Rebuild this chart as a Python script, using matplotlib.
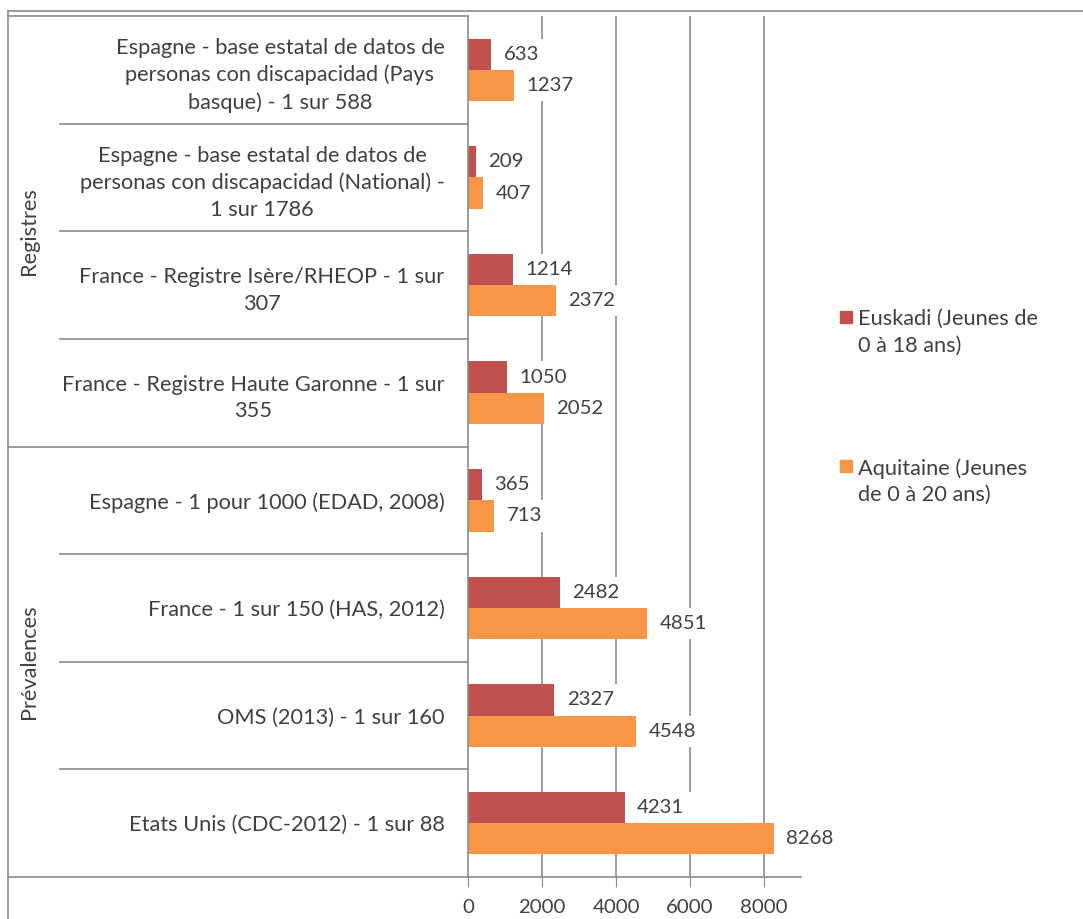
import matplotlib
matplotlib.use("Agg")
import matplotlib.pyplot as plt
import numpy as np
from matplotlib.lines import Line2D
from matplotlib.patches import Rectangle
import matplotlib.transforms as mtransforms

plt.rcParams['font.family'] = ['Lato', 'DejaVu Sans']

# data, top to bottom
categories = [
    "Espagne - base estatal de datos de\npersonas con discapacidad (Pays\nbasque) - 1 sur 588",
    "Espagne - base estatal de datos de\npersonas con discapacidad (National) -\n1 sur 1786",
    "France - Registre Isère/RHEOP - 1 sur\n307",
    "France - Registre Haute Garonne - 1 sur\n355",
    "Espagne - 1 pour 1000 (EDAD, 2008)",
    "France - 1 sur 150 (HAS, 2012)",
    "OMS (2013) - 1 sur 160",
    "Etats Unis (CDC-2012) - 1 sur 88",
]
euskadi = [633, 209, 1214, 1050, 365, 2482, 2327, 4231]
aquitaine = [1237, 407, 2372, 2052, 713, 4851, 4548, 8268]
series_names = ["Euskadi (Jeunes de\n0 à 18 ans)", "Aquitaine (Jeunes\nde 0 à 20 ans)"]
groups = ["Registres", "Prévalences"]
group_sizes = [4, 4]
xticks = [0, 2000, 4000, 6000, 8000]

RED = '#C0504D'
ORANGE = '#F79646'
GRID = '#8C8C8C'
TXT = '#404040'
FS = 15.7      # words
FS_NUM = 14.7  # numbers
LS = 1.42

W, H = 1083, 919
fig = plt.figure(figsize=(W / 100, H / 100), dpi=100)


def fx(px):
    return px / W


def fy(py):
    return 1 - py / H


ax = fig.add_axes([fx(468), fy(877), fx(801) - fx(468), fy(16) - fy(877)])

y = np.arange(len(categories))
h = 0.29
ax.barh(y - 0.145, euskadi, height=h, color=RED, zorder=2)
ax.barh(y + 0.145, aquitaine, height=h, color=ORANGE, zorder=2)

ax.set_xlim(0, 9000)
ax.set_ylim(len(categories) - 0.5, -0.5)
ax.set_xticks(xticks)
ax.set_xticklabels([str(t) for t in xticks], fontsize=FS_NUM, color=TXT)
ax.tick_params(axis='x', length=7, color=GRID, pad=9)
for t in xticks[1:]:
    ax.axvline(t, color=GRID, lw=1.2, zorder=1)

ax.set_yticks(y)
ax.set_yticklabels(categories, fontsize=FS, color=TXT, linespacing=LS)
for lbl in ax.get_yticklabels():
    lbl.set_multialignment('center')
ax.tick_params(axis='y', length=0, pad=17)

for s in ['top', 'right', 'bottom']:
    ax.spines[s].set_visible(False)
ax.spines['left'].set_color(GRID)
ax.spines['left'].set_linewidth(1.2)

# value labels
for yi, v in zip(y, euskadi):
    ax.annotate(str(v), (v, yi - 0.145), xytext=(9, 0), textcoords='offset points',
                ha='left', va='center', fontsize=FS_NUM, color=TXT, zorder=4,
                bbox=dict(boxstyle='square,pad=0.35', fc='white', ec='none'))
for yi, v in zip(y, aquitaine):
    ax.annotate(str(v), (v, yi + 0.145), xytext=(9, 0), textcoords='offset points',
                ha='left', va='center', fontsize=FS_NUM, color=TXT, zorder=3,
                bbox=dict(boxstyle='square,pad=0.35', fc='white', ec='none'))

# category box lines
blend = mtransforms.blended_transform_factory(fig.transFigure, ax.transData)
for b in np.arange(0.5, len(categories) - 0.5):
    x0 = 8 if b == group_sizes[0] - 0.5 else 60
    fig.add_artist(Line2D([fx(x0), fx(468)], [b, b], transform=blend, color=GRID, lw=1.2))
fig.add_artist(Line2D([fx(8), fx(468)], [-0.5, -0.5], transform=blend, color=GRID, lw=1.2))
fig.add_artist(Line2D([fx(8), fx(801)], [len(categories) - 0.5] * 2, transform=blend,
                      color=GRID, lw=1.2))
fig.add_artist(Line2D([fx(8), fx(8)], [fy(11), 0], color=GRID, lw=1.2))
fig.add_artist(Line2D([fx(8), 1], [fy(11), fy(11)], color=GRID, lw=1.2))

# group labels
start = 0
for g, n in zip(groups, group_sizes):
    mid = start + (n - 1) / 2
    fig.text(fx(29), 0, g, rotation=90, ha='center', va='center', fontsize=FS,
             color=TXT, transform=blend).set_y(mid)
    start += n

# legend
for name, col, top in zip(series_names, [RED, ORANGE], [311, 460]):
    fig.add_artist(Rectangle((fx(840), fy(top + 12)), fx(12), 12 / H,
                             transform=fig.transFigure, color=col))
    fig.text(fx(858), fy(top - 2), name, ha='left', va='top', fontsize=FS,
             color=TXT, linespacing=LS)

fig.savefig('out.png', dpi=100)
